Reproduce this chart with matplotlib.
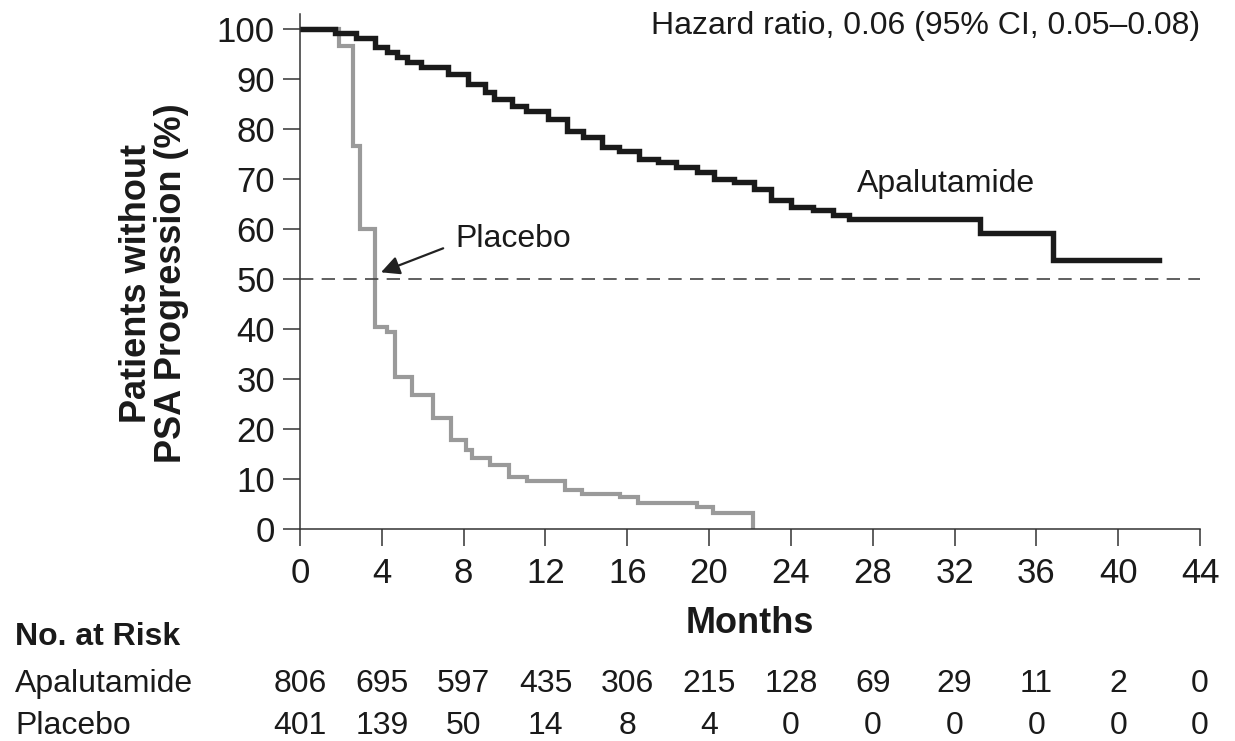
import matplotlib
matplotlib.use("Agg")
import matplotlib.pyplot as plt
import matplotlib.transforms as mtransforms

plt.rcParams["font.family"] = ["Liberation Sans", "DejaVu Sans"]

# Kaplan-Meier steps (time of drop in months, survival % after the drop)
apa_t = [0, 1.7, 2.75, 3.65, 4.25, 4.75, 5.25, 5.9, 7.25, 8.2, 9.05, 9.5, 10.35,
         11.05, 12.1, 13.05, 13.85, 14.75, 15.6, 16.55, 17.5, 18.4, 19.4, 20.25,
         21.2, 22.2, 23.05, 24.0, 25.1, 26.05, 26.85, 33.25, 36.8, 42.0]
apa_s = [100, 99.2, 98.1, 96.3, 95.3, 94.3, 93.3, 92.3, 91.0, 89.0, 87.3, 86.0, 84.6,
         83.6, 82.0, 79.6, 78.3, 76.3, 75.6, 74.0, 73.3, 72.4, 71.3, 70.0,
         69.3, 68.0, 65.7, 64.3, 63.7, 62.7, 61.9, 59.1, 53.7, 53.7]

pla_t = [0, 1.9, 2.6, 2.95, 3.67, 4.25, 4.65, 5.5, 6.5, 7.4, 8.1, 8.4, 9.3, 10.2,
         11.1, 12.96, 13.8, 15.65, 16.5, 19.4, 20.2, 22.15]
pla_s = [100, 96.5, 76.6, 60.0, 40.3, 39.3, 30.3, 26.7, 22.2, 17.8, 15.8, 14.2, 12.8,
         10.4, 9.6, 7.8, 7.0, 6.4, 5.2, 4.4, 3.2, 0]

risk_months = [0, 4, 8, 12, 16, 20, 24, 28, 32, 36, 40, 44]
risk_apa = [806, 695, 597, 435, 306, 215, 128, 69, 29, 11, 2, 0]
risk_pla = [401, 139, 50, 14, 8, 4, 0, 0, 0, 0, 0, 0]

ink = "#1a1a1a"

fig = plt.figure(figsize=(12.35, 7.41), dpi=100)
ax = fig.add_axes([0.2429, 0.2861, 0.7288, 0.6955])

ax.step(pla_t, pla_s, where="post", color="#9a9a9a", lw=3.0, solid_joinstyle="miter")
ax.step(apa_t, apa_s, where="post", color=ink, lw=3.9, solid_joinstyle="miter")
ax.axhline(50, color="#444444", lw=1.2, dashes=(8, 5))

ax.set_xlim(0, 44)
ax.set_ylim(0, 103)
ax.set_xticks(range(0, 45, 4))
ax.set_yticks(range(0, 101, 10))
for side in ["top", "right"]:
    ax.spines[side].set_visible(False)
for side in ["left", "bottom"]:
    ax.spines[side].set_linewidth(1.1)
    ax.spines[side].set_color("#333333")
ax.tick_params(length=12, width=1.1, color="#333333", labelcolor=ink)
ax.tick_params(axis="y", labelsize=25, pad=6)
ax.tick_params(axis="x", labelsize=25, pad=8)

ax.text(44, 100.6, "Hazard ratio, 0.06 (95% CI, 0.05\u20130.08)",
        ha="right", va="center", fontsize=23, color=ink)
ax.text(31.6, 69, "Apalutamide", ha="center", va="center", fontsize=23, color=ink)
ax.text(7.6, 58, "Placebo", ha="left", va="center", fontsize=23, color=ink)
ax.annotate("", xy=(3.96, 51.3), xytext=(7.0, 56.1),
            arrowprops=dict(arrowstyle="-|>", color="#222222", lw=1.6, mutation_scale=28,
                            shrinkA=0, shrinkB=0))

fig.text(154 / 1235, 1 - 283 / 741, "Patients without\nPSA Progression (%)", rotation=90,
         ha="center", va="center", multialignment="center", fontsize=26,
         fontweight="bold", linespacing=1.0, color=ink)
ax.set_xlabel("Months", fontsize=26, fontweight="bold", labelpad=12, color=ink)

# number-at-risk table under the axis
tr = mtransforms.blended_transform_factory(ax.transData, fig.transFigure)
fig.text(15 / 1235, 1 - 637 / 741, "No. at Risk", ha="left", va="center", fontsize=23,
         fontweight="bold", color=ink)
fig.text(15 / 1235, 1 - 684 / 741, "Apalutamide", ha="left", va="center", fontsize=23,
         color=ink)
fig.text(15 / 1235, 1 - 726 / 741, "Placebo", ha="left", va="center", fontsize=23,
         color=ink)
for m, a, p in zip(risk_months, risk_apa, risk_pla):
    ax.text(m, 1 - 684 / 741, str(a), transform=tr, ha="center", va="center",
            fontsize=23, color=ink, clip_on=False)
    ax.text(m, 1 - 726 / 741, str(p), transform=tr, ha="center", va="center",
            fontsize=23, color=ink, clip_on=False)

fig.savefig("out.png", dpi=100)
